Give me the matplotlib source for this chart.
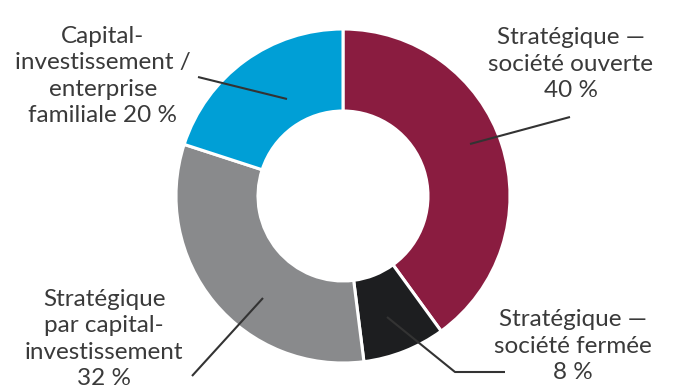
import matplotlib.pyplot as plt

labels = ["Stratégique —\nsociété ouverte\n40 %",
          "Stratégique —\nsociété fermée\n8 %",
          "Stratégique\npar capital-\ninvestissement\n32 %",
          "Capital-\ninvestissement /\nenterprise\nfamiliale 20 %"]
shares = [40, 8, 32, 20]
colors = ["#8a1c40", "#1d1e20", "#898a8c", "#009fd6"]

# label anchor (last-line baseline) and leader lines, in pixel coords (y down)
label_pos = [(571, 97), (573, 379), (104, 385), (103, 122)]
leaders = [
    [(570, 117), (470, 144)],
    [(387, 317), (455, 372), (505, 372)],
    [(192, 376), (263, 298)],
    [(198, 77), (287, 99)],
]

W, H = 673, 389
fig = plt.figure(figsize=(W / 100, H / 100), dpi=100)
ax = fig.add_axes([0, 0, 1, 1])

ax.pie(shares, colors=colors, startangle=90, counterclock=False,
       center=(343, H - 196), radius=167, frame=True,
       wedgeprops=dict(width=82, edgecolor="white", linewidth=2.2))
ax.set_xlim(0, W)
ax.set_ylim(0, H)
ax.set_aspect("equal")
ax.axis("off")

for pts in leaders:
    xs = [p[0] for p in pts]
    ys = [H - p[1] for p in pts]
    ax.plot(xs, ys, color="#333333", lw=1.5, solid_capstyle="butt")

for lab, (x, y) in zip(labels, label_pos):
    ax.text(x, H - y, lab, ha="center", va="baseline", multialignment="center",
            fontsize=17.5, family="Lato", color="#3a3a3a", linespacing=1.31)

fig.savefig("out.png", dpi=100)
